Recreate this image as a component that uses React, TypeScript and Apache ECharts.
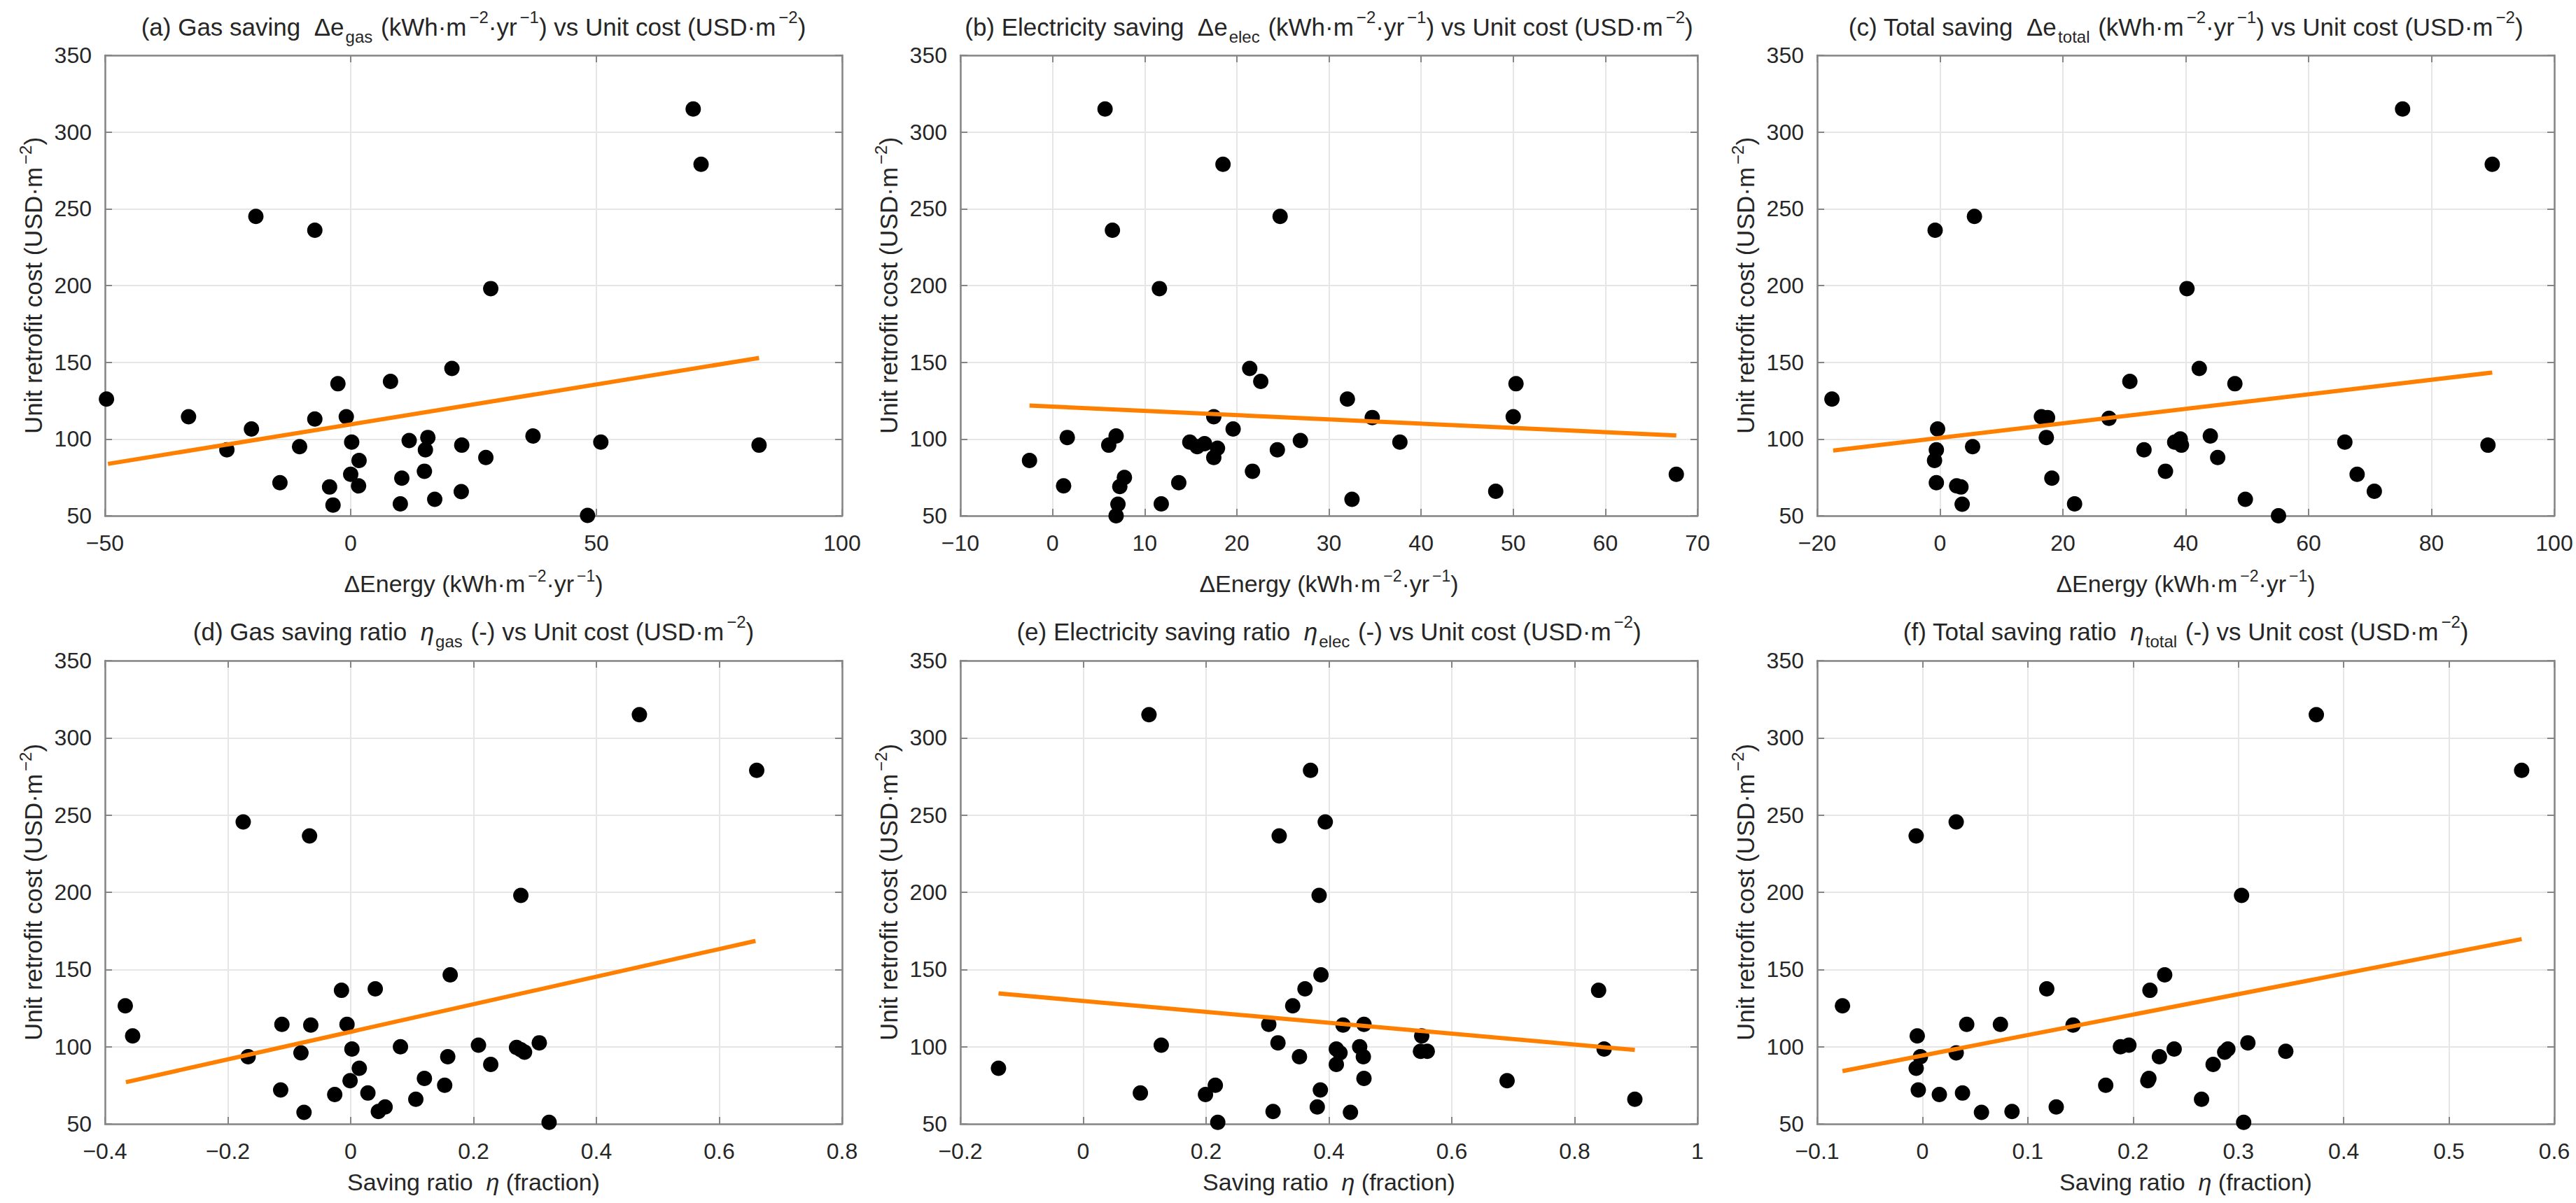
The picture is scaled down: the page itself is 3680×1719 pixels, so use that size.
import React, { useEffect, useRef } from "react";
import * as echarts from "echarts";

const FONT = "'Liberation Sans', Arial, Helvetica, sans-serif";
const TEXT = "#262626";
const AXIS = "#858585";
const GRIDLINE = "#e6e6e6";
const DOT = "#000000";
const TREND = "#ff8000";

// ---------- data (x, unit cost) ----------
const gasSaving: number[][] = [
  [69.7, 315], [71.3, 279], [-19.3, 245], [-7.3, 236], [28.5, 198], [20.6, 146], [-2.6, 136], [8.1, 137.5],
  [-49.7, 126], [-33, 114.5], [-7.3, 113], [-0.9, 114.5], [-20.2, 106.5], [37.1, 102], [50.9, 98], [83.1, 96],
  [-25.2, 93], [-10.4, 95], [0.2, 98], [11.9, 99], [15.7, 101], [15.2, 93], [22.6, 96], [27.5, 88],
  [1.7, 86], [0, 77], [15, 79], [10.4, 74.5], [-14.4, 71.5], [1.6, 69.5], [-4.3, 68.75], [22.5, 65.75],
  [17.1, 60.75], [-3.6, 57], [10.1, 57.75], [48.2, 50.25],
];
const elecSaving: number[][] = [
  [5.7, 315], [18.5, 279], [24.7, 245], [6.5, 236], [11.6, 198], [21.4, 146], [22.6, 137.5], [50.3, 136],
  [32, 126], [17.5, 114.5], [34.7, 114], [50, 114.5], [19.6, 106.5], [-2.5, 86], [1.6, 101], [6.9, 102],
  [6.1, 96], [14.9, 98], [15.7, 95], [16.5, 97], [17.9, 94], [17.5, 88], [24.4, 93], [26.9, 99],
  [37.7, 98], [21.7, 79], [7.8, 75], [7.3, 69], [1.2, 69.5], [13.7, 71.5], [67.7, 77], [48.1, 66],
  [32.5, 60.75], [7.1, 57.5], [11.8, 57.75], [6.9, 50],
];
const totalSaving: number[][] = [
  [75.3, 315], [89.9, 279], [5.6, 245], [-0.8, 236], [40.2, 198], [42.2, 146], [30.9, 137.5], [48, 136],
  [-17.6, 126], [16.5, 114.5], [17.5, 114], [27.5, 113.5], [-0.4, 106.5], [44, 102], [17.3, 101], [65.9, 98],
  [89.2, 96], [-0.6, 93], [5.3, 95], [33.2, 93], [38.2, 98], [39.1, 100], [39.3, 96], [45.2, 88],
  [-0.9, 86], [36.7, 79], [18.2, 74.5], [-0.6, 71.5], [2.7, 69.5], [3.4, 68.75], [67.9, 77], [70.7, 66],
  [49.7, 60.75], [3.6, 57.5], [21.9, 57.75], [55.1, 50],
];
const gasRatio: number[][] = [
  [0.47, 315], [0.661, 279], [-0.175, 245.5], [-0.067, 236.5], [0.277, 198], [0.162, 146.5], [-0.015, 136.5], [0.04, 137.5],
  [-0.367, 126.5], [-0.112, 114.5], [-0.065, 114], [-0.006, 114.5], [-0.355, 107], [0.307, 102.5], [0.208, 101], [-0.167, 93.5],
  [-0.081, 96], [0.002, 98.5], [0.081, 100], [0.27, 99.5], [0.283, 96.5], [0.277, 98], [0.158, 93.5], [0.228, 88.5],
  [0.014, 86], [-0.001, 78], [0.12, 79.5], [0.153, 75], [-0.114, 72], [0.028, 70], [-0.026, 69], [0.106, 66],
  [0.056, 61], [0.045, 58], [-0.076, 57.5], [0.323, 51],
];
const elecRatio: number[][] = [
  [0.107, 315], [0.37, 279], [0.394, 245.5], [0.319, 236.5], [0.384, 198], [0.387, 146.5], [0.361, 137.5], [0.839, 136.5],
  [0.341, 126.5], [0.302, 114.5], [0.423, 114], [0.457, 114.5], [0.551, 107], [-0.138, 86], [0.127, 101], [0.317, 102.5],
  [0.45, 100], [0.412, 98.5], [0.418, 96], [0.549, 97], [0.56, 97], [0.848, 98.5], [0.352, 93.5], [0.456, 93.5],
  [0.412, 88.5], [0.457, 79.5], [0.215, 75], [0.69, 78], [0.093, 70], [0.199, 69], [0.386, 72], [0.898, 66],
  [0.381, 61], [0.309, 58], [0.435, 57.5], [0.219, 51],
];
const totalRatio: number[][] = [
  [0.374, 315], [0.569, 279], [0.032, 245.5], [-0.006, 236.5], [0.303, 198], [0.23, 146.5], [0.118, 137.5], [0.216, 136.5],
  [-0.076, 126.5], [0.042, 114.5], [0.074, 114.5], [0.143, 114], [-0.005, 107], [0.309, 102.5], [0.196, 101], [0.188, 100],
  [0.239, 98.5], [0.29, 98.5], [0.287, 96.5], [0.345, 97], [0.032, 96], [-0.002, 93.5], [0.225, 93.5], [0.276, 88.5],
  [-0.006, 86], [0.215, 79.5], [0.214, 78], [0.174, 75], [-0.004, 72], [0.016, 69], [0.038, 70], [0.265, 66],
  [0.127, 61], [0.056, 57.5], [0.085, 58], [0.305, 51],
];

// fitted trend lines (end points)
const gasSavingFit = [[-49.4, 83.8], [83.1, 152.8]];
const elecSavingFit = [[-2.5, 121.8], [67.7, 102.3]];
const totalSavingFit = [[-17.4, 92.5], [89.9, 143.3]];
const gasRatioFit = [[-0.366, 77], [0.659, 168.5]];
const elecRatioFit = [[-0.138, 134.5], [0.898, 97.9]];
const totalRatioFit = [[-0.076, 84.2], [0.569, 169.7]];

// axis ranges
const xMins = [-50, -10, -20, -0.4, -0.2, -0.1];
const xMaxs = [100, 70, 100, 0.8, 1, 0.6];
const xSteps = [50, 10, 20, 0.2, 0.2, 0.1];
const yMin = 50;
const yMax = 350;
const yStep = 50;

const panelData = [gasSaving, elecSaving, totalSaving, gasRatio, elecRatio, totalRatio];
const panelFits = [gasSavingFit, elecSavingFit, totalSavingFit, gasRatioFit, elecRatioFit, totalRatioFit];

const E_UNIT = "{n| (kWh·m}{sup|−2}{n|·yr}{sup|−1}{n|) vs Unit cost (USD·m}{sup|−2}{n|)}";
const R_UNIT = "{n| (-) vs Unit cost (USD·m}{sup|−2}{n|)}";
const titles = [
  "{n|(a) Gas saving  Δe}{sub|gas}" + E_UNIT,
  "{n|(b) Electricity saving  Δe}{sub|elec}" + E_UNIT,
  "{n|(c) Total saving  Δe}{sub|total}" + E_UNIT,
  "{n|(d) Gas saving ratio  }{it|η}{sub|gas}" + R_UNIT,
  "{n|(e) Electricity saving ratio  }{it|η}{sub|elec}" + R_UNIT,
  "{n|(f) Total saving ratio  }{it|η}{sub|total}" + R_UNIT,
];
const xNameEnergy = "{n|ΔEnergy (kWh·m}{sup|−2}{n|·yr}{sup|−1}{n|)}";
const xNameRatio = "{n|Saving ratio  }{it|η}{n| (fraction)}";
const yName = "{n|Unit retrofit cost (USD·m}{sup|−2}{n|)}";

// layout
const GRID_LEFT = [150, 1372, 2596];
const GRID_W = 1053;
const GRID_TOP = [79, 944];
const GRID_H = [658, 662];

function richStyles(size: number, lh: number) {
  const small = Math.round(size * 0.68);
  return {
    n: { fontSize: size, lineHeight: lh, fontFamily: FONT, color: TEXT },
    it: { fontSize: size, lineHeight: lh, fontFamily: FONT, color: TEXT, fontStyle: "italic" },
    sup: { fontSize: small, lineHeight: small, fontFamily: FONT, color: TEXT, verticalAlign: "top", padding: [0, 0, 0, 4] },
    sub: { fontSize: small, lineHeight: small, fontFamily: FONT, color: TEXT, verticalAlign: "bottom", padding: [0, 2, 0, 2] },
  };
}

function fmt(v: number) {
  const s = String(parseFloat(Number(v).toFixed(6)));
  return s.replace("-", "\u2212");
}

function buildOption() {
  const grid: any[] = [];
  const xAxis: any[] = [];
  const yAxis: any[] = [];
  const series: any[] = [];
  for (let i = 0; i < 6; i++) {
    const col = i % 3;
    const row = Math.floor(i / 3);
    grid.push({ left: GRID_LEFT[col], top: GRID_TOP[row], width: GRID_W, height: GRID_H[row], containLabel: false });
    const tick = { show: true, inside: true, length: 10, lineStyle: { color: AXIS, width: 2 } };
    const line = { show: true, onZero: false, lineStyle: { color: AXIS, width: 2.5 } };
    xAxis.push({
      gridIndex: i, type: "value", position: "bottom",
      min: xMins[i], max: xMaxs[i], interval: xSteps[i],
      axisLine: line, axisTick: tick,
      axisLabel: { fontSize: 32, color: TEXT, fontFamily: FONT, margin: 23, formatter: fmt, showMinLabel: true, showMaxLabel: true },
      splitLine: { show: true, lineStyle: { color: GRIDLINE, width: 2 } },
      name: row === 0 ? xNameEnergy : xNameRatio,
      nameLocation: "middle", nameGap: row === 0 ? 74 : 60,
      nameTextStyle: { rich: richStyles(34, 46) },
    });
    xAxis.push({
      gridIndex: i, type: "value", position: "top",
      min: xMins[i], max: xMaxs[i], interval: xSteps[i],
      axisLine: line, axisTick: tick,
      axisLabel: { show: false }, splitLine: { show: false },
      name: titles[i], nameLocation: "middle", nameGap: row === 0 ? 15 : 16,
      nameTextStyle: { rich: richStyles(35, 52) },
    });
    yAxis.push({
      gridIndex: i, type: "value", position: "left",
      min: yMin, max: yMax, interval: yStep,
      axisLine: line, axisTick: tick,
      axisLabel: { fontSize: 32, color: TEXT, fontFamily: FONT, margin: 19, formatter: fmt, showMinLabel: true, showMaxLabel: true },
      splitLine: { show: true, lineStyle: { color: GRIDLINE, width: 2 } },
      name: yName, nameLocation: "middle", nameGap: 80, nameRotate: 90,
      nameTextStyle: { rich: richStyles(35, 46) },
    });
    yAxis.push({
      gridIndex: i, type: "value", position: "right",
      min: yMin, max: yMax, interval: yStep,
      axisLine: line, axisTick: tick,
      axisLabel: { show: false }, splitLine: { show: false },
    });
    series.push({
      type: "scatter", xAxisIndex: 2 * i, yAxisIndex: 2 * i,
      data: panelData[i], symbol: "circle", symbolSize: 22,
      itemStyle: { color: DOT, opacity: 1 }, z: 3, clip: false,
    });
    series.push({
      type: "line", xAxisIndex: 2 * i, yAxisIndex: 2 * i,
      data: panelFits[i], showSymbol: false, symbol: "none",
      lineStyle: { color: TREND, width: 6 }, z: 4,
    });
  }
  return {
    animation: false,
    backgroundColor: "#ffffff",
    textStyle: { fontFamily: FONT },
    grid, xAxis, yAxis, series,
  };
}

export default function App() {
  const ref = useRef<HTMLDivElement>(null);
  useEffect(() => {
    document.body.style.margin = "0";
    const chart = echarts.init(ref.current as HTMLDivElement, null, { renderer: "svg" });
    chart.setOption(buildOption() as any);
    return () => chart.dispose();
  }, []);
  return <div ref={ref} style={{ width: 3680, height: 1719, background: "#fff" }} />;
}
